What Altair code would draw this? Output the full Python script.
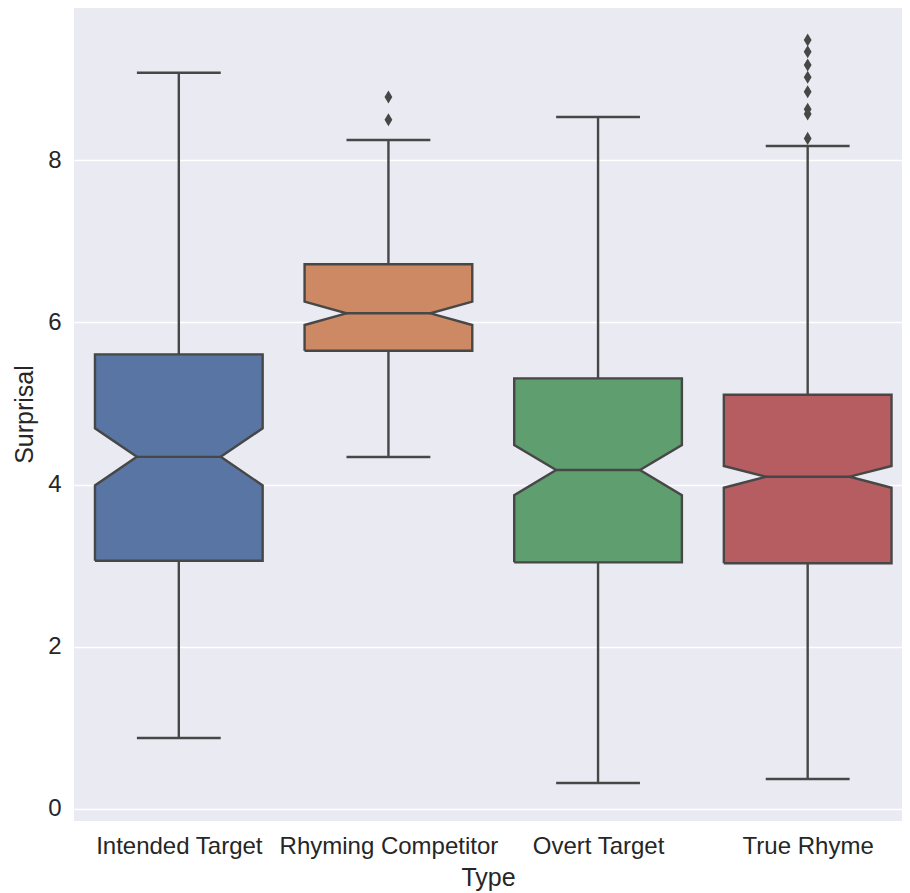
import json
import altair as alt
import pandas as pd

# ---- data ----
types = ["Intended Target", "Rhyming Competitor", "Overt Target", "True Rhyme"]
whislo = [0.876, 4.34, 0.321, 0.370]
q1 = [3.062, 5.652, 3.042, 3.030]
notch_lo = [3.990, 5.969, 3.869, 3.962]
median = [4.343, 6.113, 4.181, 4.098]
notch_hi = [4.695, 6.256, 4.489, 4.230]
q3 = [5.607, 6.717, 5.311, 5.109]
whishi = [9.08, 8.25, 8.534, 8.176]
outlier_type = ["Rhyming Competitor"] * 2 + ["True Rhyme"] * 8
outlier_val = [8.50, 8.78, 8.27, 8.57, 8.63, 8.846, 9.023, 9.175, 9.339, 9.483]
y_ticks = [0, 2, 4, 6, 8]

colors = ["#5875A4", "#CC8963", "#5F9E6E", "#B55D60"]
line_col = "#474747"
text_col = "#262626"
bg = "#EAEAF2"
LW = 2.4

BW = 0.4   # half box width
NW = 0.2   # half notch waist width

# ---- derived tables ----
area_rows, outline_rows, stats_rows = [], [], []
for i, t in enumerate(types):
    for yv, hw in [(q1[i], BW), (notch_lo[i], BW), (median[i], NW), (notch_hi[i], BW), (q3[i], BW)]:
        area_rows.append({"type": t, "y": yv, "xl": i - hw, "xr": i + hw})
    verts = [(i - BW, q1[i]), (i + BW, q1[i]), (i + BW, notch_lo[i]), (i + NW, median[i]),
             (i + BW, notch_hi[i]), (i + BW, q3[i]), (i - BW, q3[i]), (i - BW, notch_hi[i]),
             (i - NW, median[i]), (i - BW, notch_lo[i]), (i - BW, q1[i])]
    for k, (xv, yv) in enumerate(verts):
        outline_rows.append({"type": t, "x": xv, "y": yv, "k": k})
    stats_rows.append({"type": t, "pos": i, "lo": whislo[i], "q1": q1[i], "med": median[i],
                       "q3": q3[i], "hi": whishi[i], "nl": i - NW, "nr": i + NW})

area_df = pd.DataFrame(area_rows)
outline_df = pd.DataFrame(outline_rows)
stats_df = pd.DataFrame(stats_rows)
out_df = pd.DataFrame({"type": outlier_type, "val": outlier_val})
out_df["pos"] = out_df["type"].map({t: i for i, t in enumerate(types)})

label_expr = json.dumps(types) + "[datum.value]"

xscale = alt.Scale(domain=[-0.5, 3.450], nice=False, zero=False)
yscale = alt.Scale(domain=[-0.148, 9.878], nice=False, zero=False)

FONT = "Liberation Sans"

x_axis = alt.Axis(values=[0, 1, 2, 3], labelExpr=label_expr, grid=False, ticks=False, tickSize=0,
                  domain=False, labelOverlap=False, labelBound=False, labelLimit=500,
                  labelFontSize=24, labelColor=text_col, labelFont=FONT, labelPadding=25,
                  labelBaseline="middle",
                  title="Type", titleFontSize=25, titleFont=FONT, titleColor=text_col,
                  titleFontWeight="normal", titleY=56, titleBaseline="middle")
y_axis = alt.Axis(values=y_ticks, format="d", grid=True, gridColor="white", gridWidth=1.5,
                  ticks=False, tickSize=0, domain=False, labelFontSize=24, labelColor=text_col,
                  labelFont=FONT, labelPadding=13, title="Surprisal", titleFontSize=25,
                  titleFont=FONT, titleColor=text_col, titleFontWeight="normal", titleX=-50,
                  titleY=406, titleAngle=-90, titleBaseline="middle", titleAlign="center")

color_scale = alt.Scale(domain=types, range=colors)

# invisible base to carry the axes
base = alt.Chart(stats_df).mark_point(opacity=0).encode(
    x=alt.X("pos:Q", scale=xscale, axis=x_axis),
    y=alt.Y("med:Q", scale=yscale, axis=y_axis),
)

whisk_hi = alt.Chart(stats_df).mark_rule(color=line_col, strokeWidth=LW).encode(
    x=alt.X("pos:Q", scale=xscale), y=alt.Y("q3:Q", scale=yscale), y2="hi:Q")
whisk_lo = alt.Chart(stats_df).mark_rule(color=line_col, strokeWidth=LW).encode(
    x=alt.X("pos:Q", scale=xscale), y=alt.Y("lo:Q", scale=yscale), y2="q1:Q")
cap_hi = alt.Chart(stats_df).mark_rule(color=line_col, strokeWidth=LW).encode(
    x=alt.X("nl:Q", scale=xscale), x2="nr:Q", y=alt.Y("hi:Q", scale=yscale))
cap_lo = alt.Chart(stats_df).mark_rule(color=line_col, strokeWidth=LW).encode(
    x=alt.X("nl:Q", scale=xscale), x2="nr:Q", y=alt.Y("lo:Q", scale=yscale))

fill = alt.Chart(area_df).mark_area(orient="horizontal", opacity=1).encode(
    y=alt.Y("y:Q", scale=yscale),
    x=alt.X("xl:Q", scale=xscale, stack=None),
    x2="xr:Q",
    color=alt.Color("type:N", scale=color_scale, legend=None),
    detail="type:N",
)

outline = alt.Chart(outline_df).mark_line(color=line_col, strokeWidth=LW, strokeJoin="miter").encode(
    x=alt.X("x:Q", scale=xscale),
    y=alt.Y("y:Q", scale=yscale),
    detail="type:N",
    order=alt.Order("k:Q"),
)

med_line = alt.Chart(stats_df).mark_rule(color=line_col, strokeWidth=LW).encode(
    x=alt.X("nl:Q", scale=xscale), x2="nr:Q", y=alt.Y("med:Q", scale=yscale))

fliers = alt.Chart(out_df).mark_point(
    shape="M0,-1L0.6,0L0,1L-0.6,0Z", filled=True, color=line_col, opacity=1, size=170
).encode(x=alt.X("pos:Q", scale=xscale), y=alt.Y("val:Q", scale=yscale))

chart = alt.layer(base, whisk_hi, whisk_lo, cap_hi, cap_lo, fill, outline, med_line, fliers).properties(
    width=828, height=813,
    autosize=alt.AutoSizeParams(type="none"),
    padding={"left": 66, "top": 0, "right": 0, "bottom": 72},
    background="white",
).configure_view(fill=bg, stroke=None)

chart.save("out.html", embed_options={"renderer": "svg", "actions": False})
